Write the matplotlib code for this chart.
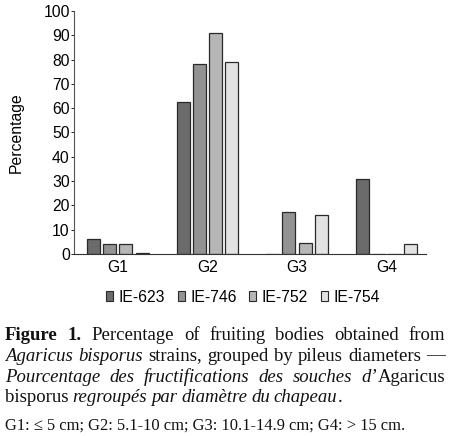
import numpy as np
import matplotlib.pyplot as plt
from matplotlib.patches import Patch

groups = ['G1', 'G2', 'G3', 'G4']
strains = ['IE-623', 'IE-746', 'IE-752', 'IE-754']
ie623 = [6.3, 62.5, 0, 31]
ie746 = [4.2, 78, 17.3, 0]
ie752 = [4.0, 91, 4.5, 0]
ie754 = [0.5, 79, 16, 4.2]
colors = ['#6b6b6b', '#939393', '#b6b6b6', '#e2e2e2']

caption = [
    [[("Figure", "bold")], [("1.", "bold")], [("Percentage", "normal")], [("of", "normal")],
     [("fruiting", "normal")], [("bodies", "normal")], [("obtained", "normal")], [("from", "normal")]],
    [[("Agaricus", "italic")], [("bisporus", "italic")], [("strains,", "normal")], [("grouped", "normal")],
     [("by", "normal")], [("pileus", "normal")], [("diameters", "normal")], [("\u2014", "normal")]],
    [[("Pourcentage", "italic")], [("des", "italic")], [("fructifications", "italic")], [("des", "italic")],
     [("souches", "italic")], [("d\u2019", "italic"), ("Agaricus", "normal")]],
    [[("bisporus", "normal")], [("regroup\u00e9s", "italic")], [("par", "italic")], [("diam\u00e8tre", "italic")],
     [("du", "italic")], [("chapeau", "italic"), (".", "normal")]],
]
footnote = "G1: \u2264 5 cm; G2: 5.1-10 cm; G3: 10.1-14.9 cm; G4: > 15 cm."

plt.rcParams['font.family'] = ['Liberation Sans', 'DejaVu Sans']
fs = 11.3

fig = plt.figure(figsize=(4.5, 4.36), dpi=100)
ax = fig.add_axes([74 / 450, 1 - 254 / 436, (426 - 74) / 450, (254 - 11) / 436])

x = np.arange(len(groups))
w = 0.145
step = 0.18
series = [ie623, ie746, ie752, ie754]
for i, vals in enumerate(series):
    ax.bar(x + (i - 1.5) * step, vals, width=w, color=colors[i],
           edgecolor='#2a2a2a', linewidth=0.9)

ax.set_xlim(-0.49, 3.44)
ax.set_ylim(0, 100)
ax.set_yticks(range(0, 101, 10))
ax.set_xticks(x)
ax.set_xticklabels(groups, fontsize=fs)
ax.tick_params(axis='y', labelsize=fs, length=2, pad=1, width=0.6)
ax.tick_params(axis='x', length=0, pad=4)
for s in ['top', 'right']:
    ax.spines[s].set_visible(False)
ax.spines['left'].set_color('#555555')
ax.spines['bottom'].set_color('#333333')
ax.set_ylabel('Percentage', fontsize=fs, labelpad=14)

handles = [Patch(facecolor=colors[i], edgecolor='#2a2a2a', linewidth=0.8) for i in range(4)]
fig.legend(handles, strains, loc='center', bbox_to_anchor=(0.54, 1 - 297 / 436), ncol=4,
           frameon=False, fontsize=fs, handlelength=0.45, handleheight=0.6,
           handletextpad=0.35, columnspacing=0.8)

# caption, justified word by word
fig.canvas.draw()
r = fig.canvas.get_renderer()
left, right = 5, 445
ys = [335, 356, 377, 397]
cap_size = 13.5
for li, line in enumerate(caption):
    words = []
    for word in line:
        parts = []
        for txt, st in word:
            t = fig.text(0, 0, txt, fontsize=cap_size, family='Liberation Serif',
                         fontweight='bold' if st == 'bold' else 'normal',
                         fontstyle='italic' if st == 'italic' else 'normal',
                         va='center', ha='left', color='#111111')
            parts.append((t, t.get_window_extent(r).width))
        words.append(parts)
    widths = [sum(p[1] for p in wd) for wd in words]
    if li < len(caption) - 1:
        gap = (right - left - sum(widths)) / (len(words) - 1)
    else:
        gap = 4
    xp = left
    for wd in words:
        for t, wpx in wd:
            t.set_position((xp / 450, 1 - ys[li] / 436))
            xp += wpx
        xp += gap

fig.text(5 / 450, 1 - 426 / 436, footnote, fontsize=11.9, family='Liberation Serif',
         va='center', ha='left', color='#111111')

fig.savefig('out.png', dpi=100)
